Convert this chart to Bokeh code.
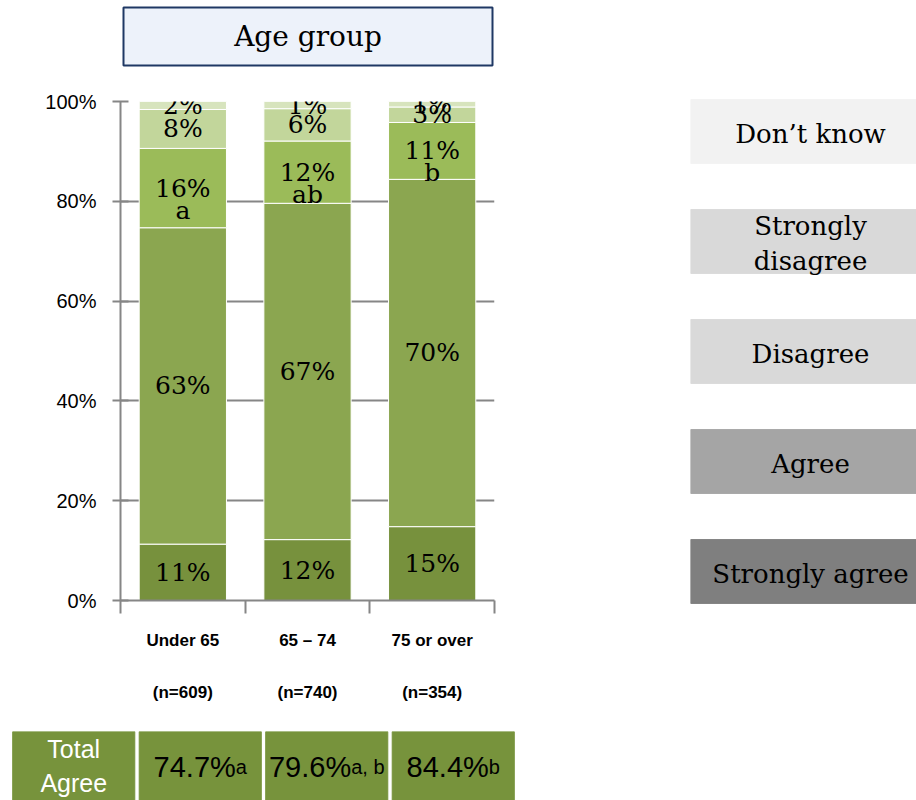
import numpy as np
from bokeh.plotting import figure
from bokeh.models import (ColumnDataSource, FactorRange, Range1d, LinearAxis,
                          FixedTicker, PrintfTickFormatter, Grid)
from bokeh.layouts import column, row
from bokeh.core.properties import value
from bokeh.embed import file_html
from bokeh.resources import INLINE

# ---------------- data ----------------
categories = ["Under 65", "65 – 74", "75 or over"]
sample_sizes = ["(n=609)", "(n=740)", "(n=354)"]
strongly_agree = [11.3, 12.2, 14.8]
agree = [63.4, 67.4, 69.6]
disagree = [15.9, 12.48, 11.4]
strongly_disagree = [7.8, 6.48, 3.1]
dont_know = [1.6, 1.44, 1.1]
sig_letters = ["a", "ab", "b"]
total_sig = ["a", "a, b", "b"]
y_ticks = [0, 20, 40, 60, 80, 100]
legend_items = ["Strongly agree", "Agree", "Disagree", "Strongly disagree", "Don’t know"]
legend_text = ["Strongly agree", "Agree", "Disagree", "Strongly\ndisagree", "Don’t know"]
title_text = "Age group"
table_header = "Total\nAgree"

# ---------------- styles ----------------
seg_names = ["strongly_agree", "agree", "disagree", "strongly_disagree", "dont_know"]
seg_colors = ["#77913d", "#8ba650", "#9bbb59", "#c2d69b", "#d7e4bd"]
legend_colors = ["#7f7f7f", "#a5a5a5", "#d9d9d9", "#d9d9d9", "#f2f2f2"]
GRAY = "#868686"
SERIF = "DejaVu Serif"
SANS = "Liberation Sans"

W, H = 916, 800
TOP_H = 68
TABLE_H = 69
MID_H = H - TOP_H - TABLE_H
MAIN_W = 560
FRAME_H = 499

common = dict(output_backend="svg", toolbar_location=None, frame_align=False,
              outline_line_color=None)

# ---------------- title box ----------------
tf = figure(width=W, height=TOP_H, x_range=Range1d(0, 1), y_range=Range1d(0, 1),
            x_axis_location=None, y_axis_location=None,
            min_border_left=123, min_border_right=W - 492, min_border_top=7,
            min_border_bottom=TOP_H - 7 - 58,
            background_fill_color="#edf2fa", **{**common, "outline_line_color": "#1f3864"})
tf.outline_line_width = 2
tf.grid.visible = False
tf.text(x=[0.5], y=[0.5], text=[title_text], text_align="center", text_baseline="middle",
        text_font=value(SERIF), text_font_size="28px", text_color="black")

# ---------------- main chart ----------------
n = len(categories)
centers = list(np.arange(n) + 0.5)
bounds = list(np.arange(n + 1).astype(float))

data = dict(xc=centers, strongly_agree=strongly_agree, agree=agree, disagree=disagree,
            strongly_disagree=strongly_disagree, dont_know=dont_know)
src = ColumnDataSource(data)

p = figure(width=MAIN_W, height=MID_H, x_range=Range1d(0, n), y_range=Range1d(0, 100),
           x_axis_type=None, y_axis_type=None,
           min_border_left=120, min_border_right=MAIN_W - 494, min_border_top=101 - TOP_H,
           min_border_bottom=MID_H - (101 - TOP_H) - FRAME_H, **common)

yaxis = LinearAxis(ticker=FixedTicker(ticks=y_ticks, minor_ticks=[]),
                   formatter=PrintfTickFormatter(format="%d%%"),
                   axis_line_color=GRAY, axis_line_width=2,
                   major_tick_line_color=GRAY, major_tick_line_width=2,
                   major_tick_in=8, major_tick_out=8, minor_tick_line_color=None,
                   major_label_text_font=SANS, major_label_text_font_size="20px",
                   major_label_text_color="black", major_label_standoff=16)
p.add_layout(yaxis, "left")
p.add_layout(Grid(dimension=1, ticker=FixedTicker(ticks=y_ticks[1:], minor_ticks=[]),
                  grid_line_color=GRAY, grid_line_width=2))

xaxis = LinearAxis(ticker=FixedTicker(ticks=centers, minor_ticks=bounds),
                   axis_line_color=GRAY, axis_line_width=2,
                   major_tick_line_color=None, major_tick_in=0, major_tick_out=0,
                   minor_tick_line_color=GRAY, minor_tick_line_width=2,
                   minor_tick_in=0, minor_tick_out=13,
                   major_label_overrides={c: f"{cat}\n\n{nn}" for c, cat, nn in
                                          zip(centers, categories, sample_sizes)},
                   major_label_text_font=SANS, major_label_text_font_style="bold",
                   major_label_text_font_size="17px", major_label_text_color="black",
                   major_label_text_line_height=1.37, major_label_standoff=17)
p.add_layout(xaxis, "below")

p.vbar_stack(seg_names, x="xc", width=0.7, color=seg_colors, line_color="white",
             line_width=1, source=src)

lx, ly, lt = [], [], []
for i, c in enumerate(centers):
    bottom = 0.0
    for s in seg_names:
        v = data[s][i]
        lx.append(c)
        ly.append(bottom + v / 2)
        lt.append(f"{round(v)}%")
        bottom += v
p.text(x="x", y="y", text="t", source=ColumnDataSource(dict(x=lx, y=ly, t=lt)),
       text_align="center", text_baseline="middle", text_font=value(SERIF),
       text_font_size="25px", text_color="black")

d_center = [sa + a + d / 2 for sa, a, d in zip(strongly_agree, agree, disagree)]
p.text(x=centers, y=d_center, text=sig_letters, y_offset=22,
       text_align="center", text_baseline="middle", text_font=value(SERIF),
       text_font_size="25px", text_color="black")

# ---------------- legend ----------------
lg = figure(width=W - MAIN_W, height=MID_H, y_range=FactorRange(*legend_items),
            x_range=Range1d(0, 226 / 240), x_axis_location=None, y_axis_location=None,
            min_border_left=690 - MAIN_W, min_border_right=0, min_border_top=8,
            min_border_bottom=MID_H - 8 - 550, **common)
lg.grid.visible = False
lg.hbar(y=legend_items, left=0, right=1, height=0.58, color=legend_colors)
lg.text(x=[0.5] * len(legend_items), y=legend_items, text=legend_text, y_offset=2,
        text_align="center", text_baseline="middle", text_font=value(SERIF),
        text_font_size="26px", text_color="black", text_line_height=1.18)

# ---------------- table ----------------
def text_width(s, size):
    w = {"%": 0.889, ".": 0.278, ",": 0.278, " ": 0.278}
    return sum(w.get(ch, 0.556) for ch in s) * size

tcols = ["Total Agree"] + categories
tb = figure(width=W, height=TABLE_H, x_range=FactorRange(*tcols), y_range=Range1d(0, 1),
            x_axis_location=None, y_axis_location=None,
            min_border_left=10, min_border_right=W - 516, min_border_top=0, min_border_bottom=0,
            **common)
tb.grid.visible = False
tb.vbar(x=tcols, top=1, bottom=0, width=0.965, color="#77933c")
tb.text(x=["Total Agree"], y=[0.5], text=[table_header], y_offset=0,
        text_align="center", text_baseline="middle", text_font=value(SANS),
        text_font_size="25px", text_color="white", text_line_height=1.2)

total_vals = [f"{sa + a:.1f}%" for sa, a in zip(strongly_agree, agree)]
offs = [(text_width(v, 29) - text_width(s, 20)) / 2 for v, s in zip(total_vals, total_sig)]
tsrc = ColumnDataSource(dict(x=categories, y=[0.5] * n, v=total_vals, s=total_sig, o=offs))
tb.text(x="x", y="y", text="v", x_offset="o", y_offset=1, source=tsrc,
        text_align="right", text_baseline="alphabetic", text_font=value(SANS),
        text_font_size="29px", text_color="black")
tb.text(x="x", y="y", text="s", x_offset="o", y_offset=1, source=tsrc,
        text_align="left", text_baseline="alphabetic", text_font=value(SANS),
        text_font_size="20px", text_color="black")

layout = column(tf, row(p, lg), tb)
open("out.html", "w").write(file_html(layout, INLINE))
